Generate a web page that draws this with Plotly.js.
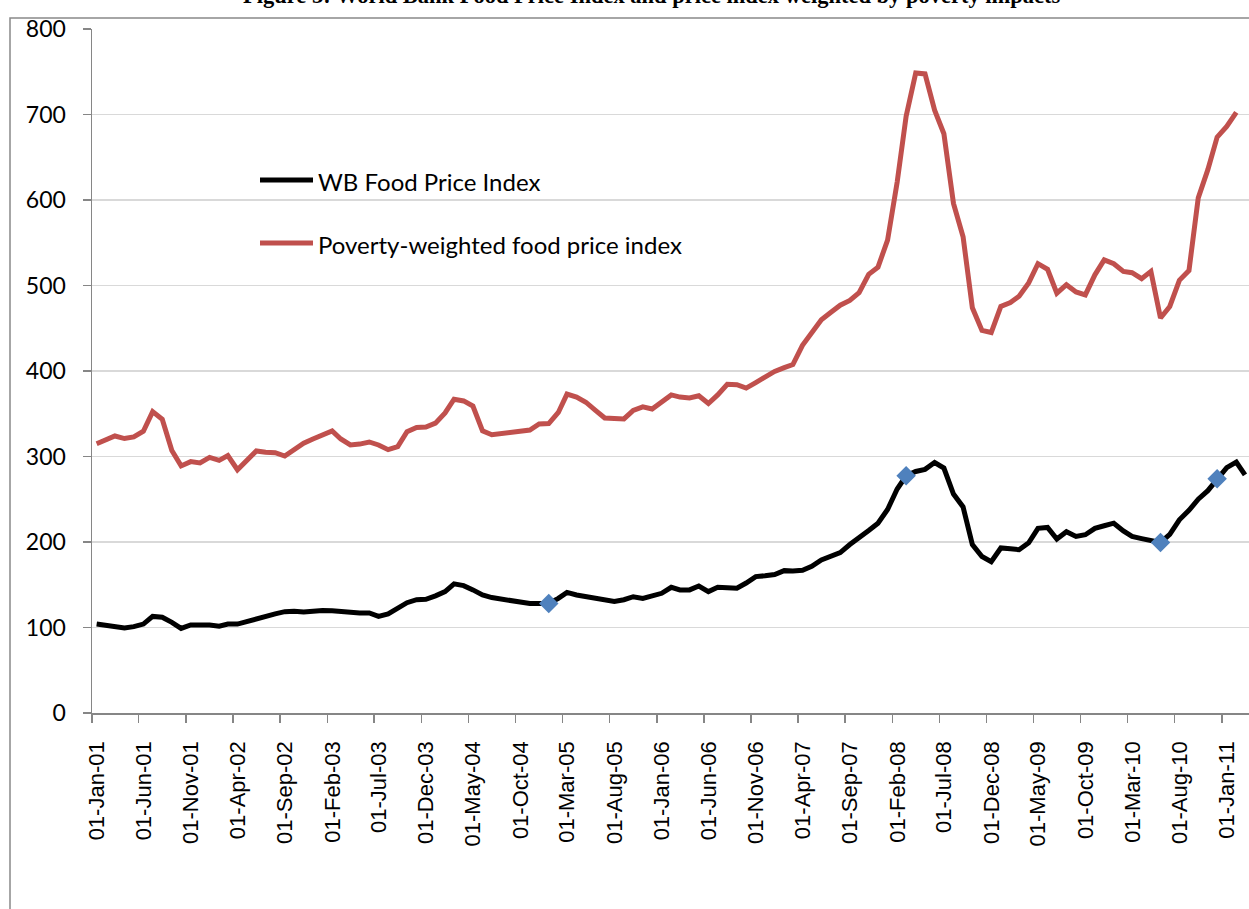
<!DOCTYPE html>
<html>
<head>
<meta charset="utf-8">
<script src="https://cdn.plot.ly/plotly-3.0.1.min.js"></script>
<style>html,body{margin:0;padding:0;background:#fff;}#chart{width:1249px;height:909px;}</style>
</head>
<body>
<div id="chart"></div>
<script>
// ---- Data (monthly, Jan 2001 onward) ----
const startYear = 2001;
const wbFoodPriceIndex = [
  104, 102, 101, 99.5, 101, 104, 113, 112, 106, 99,
  103, 103.5, 103, 101.5, 104, 104, 107, 111, 114, 116,
  118.5, 119, 118, 119.5, 120, 119.5, 118.5, 117, 117, 117,
  113, 116, 122, 129, 132.5, 133, 137, 142, 151, 149,
  144, 138, 135, 133, 130.5, 129.5, 128, 128, 128, 134,
  141, 138, 136, 134.5, 133, 130.5, 132.5, 136, 134, 137,
  140, 147, 144, 144, 148.5, 142, 147, 146.5, 146, 152,
  159.5, 160.5, 162, 166.5, 166, 167, 171.5, 179, 183, 187.5,
  197, 204.5, 213.5, 222, 238, 262, 277.5, 282.5, 285, 293,
  286.5, 256, 241, 197, 183, 177, 193, 192, 191, 199,
  216, 217, 203.5, 212, 206.5, 208.5, 216, 219, 222, 213,
  206.5, 204, 202, 199.5, 209, 226, 237, 250, 260, 274,
  287, 293.5, 278.5
];
const povertyWeightedIndex = [
  315, 319, 324, 321, 323, 329.5, 352.5, 343.5, 307, 289,
  294, 292.5, 299, 295.5, 301, 284.5, 295, 306.5, 305, 304.5,
  300.5, 307.5, 315.5, 320.5, 325, 330, 320.5, 313.5, 314.5, 317,
  313.5, 308, 311.5, 329, 334, 334.5, 339, 351, 367, 365,
  359, 330, 325.5, 327, 329.5, 330, 331, 338, 338.5, 351.5,
  373, 369.5, 363.5, 354, 345, 344.5, 344, 354, 358, 355.5,
  363, 372, 369.5, 368.5, 371, 362, 372, 384.5, 384, 380,
  386.5, 393.5, 399.5, 404, 407.5, 430, 446, 460, 468.5, 477,
  482.5, 491.5, 513, 521.5, 553, 621, 698, 748.5, 747.5, 705,
  677.5, 596, 557, 474, 447.5, 445, 475.5, 480, 487.5, 503,
  525.5, 519, 491, 501, 492.5, 489, 512.5, 530, 525.5, 516.5,
  515, 508, 516.5, 462, 475.5, 506, 517.5, 602.5, 635.5, 673.5,
  686, 702.5
];
const markerMonths = ["2005-01", "2008-03", "2010-06", "2010-12"];
const markerValues = [128, 277.5, 199.5, 274];

const tickDates = ["2001-01-01","2001-06-01","2001-11-01","2002-04-01","2002-09-01","2003-02-01",
  "2003-07-01","2003-12-01","2004-05-01","2004-10-01","2005-03-01","2005-08-01","2006-01-01",
  "2006-06-01","2006-11-01","2007-04-01","2007-09-01","2008-02-01","2008-07-01","2008-12-01",
  "2009-05-01","2009-10-01","2010-03-01","2010-08-01","2011-01-01"];
const tickLabels = ["01-Jan-01","01-Jun-01","01-Nov-01","01-Apr-02","01-Sep-02","01-Feb-03",
  "01-Jul-03","01-Dec-03","01-May-04","01-Oct-04","01-Mar-05","01-Aug-05","01-Jan-06",
  "01-Jun-06","01-Nov-06","01-Apr-07","01-Sep-07","01-Feb-08","01-Jul-08","01-Dec-08",
  "01-May-09","01-Oct-09","01-Mar-10","01-Aug-10","01-Jan-11"];

// month categories (mid-month positions on the date axis)
function monthKey(i) {
  const y = startYear + Math.floor(i / 12);
  const m = (i % 12) + 1;
  return y + "-" + (m < 10 ? "0" + m : m);
}
const monthsWB = wbFoodPriceIndex.map((_, i) => monthKey(i) + "-16");
const monthsPW = povertyWeightedIndex.map((_, i) => monthKey(i) + "-16");
const monthsMk = markerMonths.map(m => m + "-16");

const traces = [
  {x: monthsPW, y: povertyWeightedIndex, type: "scatter", mode: "lines",
   name: "Poverty-weighted food price index", line: {color: "#C0504D", width: 5}, showlegend: false},
  {x: monthsWB, y: wbFoodPriceIndex, type: "scatter", mode: "lines",
   name: "WB Food Price Index", line: {color: "#000000", width: 5}, showlegend: false},
  {x: monthsMk, y: markerValues, type: "scatter", mode: "markers",
   marker: {symbol: "diamond", size: 15, color: "#4F81BD"}, showlegend: false, hoverinfo: "skip"}
];

const L = 92, T = 29, PW = 1249 - 92, PH = 684;
const px = v => (v - L) / PW;
const py = v => (T + PH - v) / PH;

const layout = {
  width: 1249, height: 909,
  margin: {l: L, r: 0, t: T, b: 909 - T - PH, pad: 0},
  paper_bgcolor: "#ffffff", plot_bgcolor: "#ffffff",
  showlegend: false,
  xaxis: {
    type: "date", range: ["2001-01-01", "2011-03-29"],
    tickmode: "array", tickvals: tickDates, ticktext: tickLabels,
    tickangle: -90, ticks: "outside", ticklen: 8, tickwidth: 1.5, tickcolor: "#868686",
    showline: true, linecolor: "#868686", linewidth: 1.5,
    showgrid: false, zeroline: false,
    ticklabelshift: 5, ticklabelstandoff: 10,
    tickfont: {family: "Liberation Sans, Arial, sans-serif", size: 22, color: "#000"}
  },
  yaxis: {
    range: [0, 800], tickmode: "linear", tick0: 0, dtick: 100,
    ticks: "outside", ticklen: 8, tickwidth: 1.5, tickcolor: "#868686",
    showline: true, linecolor: "#868686", linewidth: 1.5,
    showgrid: true, gridcolor: "#D9D9D9", gridwidth: 1.5, zeroline: false,
    ticklabelstandoff: 12,
    tickfont: {family: "Lato, 'Open Sans', sans-serif", size: 23, color: "#000"}
  },
  shapes: [
    {type: "rect", xref: "paper", yref: "paper", x0: px(10), x1: px(1260), y0: py(920), y1: py(18),
     line: {color: "#898989", width: 1.5}, fillcolor: "rgba(0,0,0,0)", layer: "below"},
    {type: "line", xref: "paper", yref: "paper", x0: px(260), x1: px(313), y0: py(180), y1: py(180),
     line: {color: "#000000", width: 5}},
    {type: "line", xref: "paper", yref: "paper", x0: px(260), x1: px(313), y0: py(243), y1: py(243),
     line: {color: "#C0504D", width: 5}}
  ],
  annotations: [
    {text: "WB Food Price Index", xref: "paper", yref: "paper", x: px(316), y: py(181),
     xanchor: "left", yanchor: "middle", showarrow: false,
     font: {family: "Lato, 'Open Sans', sans-serif", size: 24, color: "#000"}},
    {text: "Poverty-weighted food price index", xref: "paper", yref: "paper", x: px(316), y: py(244),
     xanchor: "left", yanchor: "middle", showarrow: false,
     font: {family: "Lato, 'Open Sans', sans-serif", size: 24, color: "#000"}},
    {text: "<b>Figure 3: World Bank Food Price Index and price index weighted by poverty impacts</b>",
     xref: "paper", yref: "paper", x: px(652), y: py(-4), xanchor: "center", yanchor: "middle",
     showarrow: false, font: {family: "Liberation Serif, 'Times New Roman', serif", size: 22.5, color: "#000"}}
  ]
};

Plotly.newPlot("chart", traces, layout, {displayModeBar: false, staticPlot: true});
</script>
</body>
</html>
